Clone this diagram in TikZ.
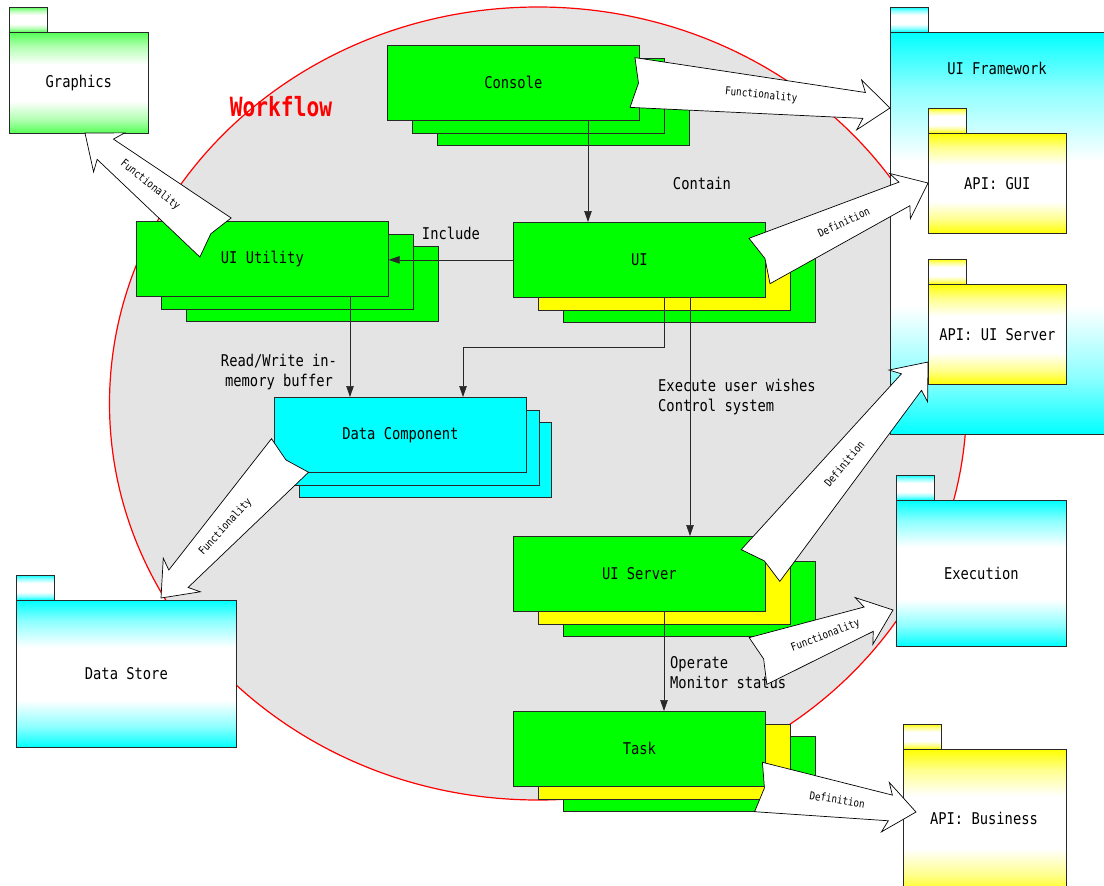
\documentclass[tikz,border=0pt]{standalone}
\usepackage{fontspec}
\usetikzlibrary{calc,arrows.meta}

% condensed monospace faces for the labels
\newfontfamily\lbl[FakeStretch=0.85]{DejaVu Sans Mono}
\newfontfamily\wflbl[FakeStretch=0.8]{DejaVu Sans Mono}

\definecolor{wfgray}{RGB}{228,228,228}
\definecolor{wfred}{RGB}{255,0,0}
\definecolor{boxgreen}{RGB}{0,255,0}
\definecolor{boxyellow}{RGB}{255,255,0}
\definecolor{boxcyan}{RGB}{0,255,255}
\definecolor{pkggreen}{RGB}{85,255,85}
\definecolor{edge}{RGB}{40,40,40}

% package fill: coloured at top and bottom, white band in the middle
\colorlet{pkgcol}{boxcyan}
\pgfdeclareverticalshading[pkgcol]{pkgshade}{100bp}{%
  color(0bp)=(pkgcol); color(25bp)=(pkgcol); color(32bp)=(pkgcol!45!white);
  color(41bp)=(white); color(59bp)=(white); color(68bp)=(pkgcol!45!white);
  color(75bp)=(pkgcol); color(100bp)=(pkgcol)}

% UML package: small tab above a body
\newcommand{\pkg}[7]{%
  \draw[pkgshape=#2] (#3,#4-25) rectangle ++(38,25);
  \node[pkgshape=#2, anchor=north west, minimum width=#5pt, minimum height=#6pt] (#1) at (#3,#4) {#7};}

% stack of three boxes, front one carries the name
\newcommand{\stk}[8]{%
  \node[stackbox, fill=#7] (#1-3) at (#2+2*#4, #3+25) {};
  \node[stackbox, fill=#6] (#1-2) at (#2+#4, #3+12.5) {};
  \node[stackbox, fill=#5] (#1) at (#2,#3) {#8};}

% tapered hollow arrow from a tail coordinate to a tip coordinate
\newcommand{\fatarrow}[3]{%
  \draw[fatarrow] ($(#1)!25pt!90:(#2)$) -- ($(#1)!6pt!(#2)$) -- ($(#1)!25pt!-90:(#2)$)
    -- ($(#2)!26pt!(#1)!13pt!90:(#1)$) -- ($(#2)!31pt!(#1)!25pt!90:(#1)$) -- (#2)
    -- ($(#2)!31pt!(#1)!25pt!-90:(#1)$) -- ($(#2)!26pt!(#1)!13pt!-90:(#1)$) -- cycle;
  \path (#1) -- node[sloped, fatlabel] {#3} (#2);}

\begin{document}
\begin{tikzpicture}[x=1pt, y=-1pt,
  txt/.style={font=\lbl\fontsize{16.2pt}{20pt}\selectfont, inner sep=0pt, text=black},
  pkgshape/.style={draw=edge, line width=0.7pt, shade, shading=pkgshade,
    /utils/exec={\colorlet{pkgcol}{#1}}, inner sep=0pt,
    font=\lbl\fontsize{16.2pt}{20pt}\selectfont},
  stackbox/.style={draw=edge, line width=0.7pt, anchor=north west, inner sep=0pt,
    minimum width=252pt, minimum height=75pt,
    font=\lbl\fontsize{16.2pt}{20pt}\selectfont},
  conn/.style={draw=edge, line width=0.7pt, -{Triangle[length=11pt,width=7.5pt]}},
  fatarrow/.style={draw=black, fill=white, line width=0.7pt, line join=miter},
  fatlabel/.style={font=\lbl\fontsize{10.9pt}{12pt}\selectfont, inner sep=0pt},
  wf/.style={draw=wfred, fill=wfgray, line width=1.2pt},
  wflabel/.style={font=\wflbl\bfseries\fontsize{26.5pt}{30pt}\selectfont, text=wfred, inner sep=0pt}]

\useasboundingbox (0,0) rectangle (1104,886);
\clip (0,0) rectangle (1104,886);
\fill[white] (0,0) rectangle (1104,886);

% workflow region
\draw[wf] (538,403.5) ellipse [x radius=428.5pt, y radius=396.5pt];
\node[wflabel] (wftitle) at (281,107) {Workflow};

% packages
\pkg{graphics}{pkggreen}{9}{32}{139}{101}{Graphics}
\pkg{uifw}{boxcyan}{890}{32}{225}{402}{}
\node[txt] (uifwlabel) at (997,68) {UI Framework};
\pkg{apigui}{boxyellow}{928}{133}{138}{100}{API: GUI}
\pkg{apisrv}{boxyellow}{928}{284}{138}{100}{API: UI Server}
\pkg{exec}{boxcyan}{896}{500}{170}{146}{Execution}
\pkg{apibiz}{boxyellow}{903}{749}{163}{146}{}
\node[txt] (apibizlabel) at (984,818) {API: Business};
\pkg{store}{boxcyan}{16}{600}{220}{147}{Data Store}

% component stacks
\stk{console}{387}{45}{25}{boxgreen}{boxgreen}{boxgreen}{Console}
\stk{ui}{513}{222}{25}{boxgreen}{boxyellow}{boxgreen}{UI}
\stk{uiutil}{136}{221}{25}{boxgreen}{boxgreen}{boxgreen}{UI Utility}
\stk{datacomp}{274}{397}{12.5}{boxcyan}{boxcyan}{boxcyan}{Data Component}
\stk{uiserver}{513}{536}{25}{boxgreen}{boxyellow}{boxgreen}{UI Server}
\stk{task}{513}{711}{25}{boxgreen}{boxyellow}{boxgreen}{Task}

% dependencies
\draw[conn] (588,0 |- console.south) -- (588,0 |- ui.north);
\draw[conn] (ui.west) -- (ui.west -| uiutil.east);
\draw[conn] (350,0 |- uiutil.south) -- (350,0 |- datacomp.north);
\draw[conn] (664,0 |- ui.south) -- (664,347) -| (463,0 |- datacomp.north);
\draw[conn] (690,0 |- ui.south) -- (690,0 |- uiserver.north);
\draw[conn] (664,0 |- uiserver.south) -- (664,0 |- task.north);

\node[txt] (contain) at (702,183) {Contain};
\node[txt] (include) at (451,233) {Include};
\node[txt, align=center] (rwlabel) at (279,372) {Read/Write in-\\memory buffer};
\node[txt, align=left, anchor=west] (execlabel) at (658,397.5) {Execute user wishes\\Control system};
\node[txt, align=left, anchor=west] (oplabel) at (670,673) {Operate\\Monitor status};

% realisation arrows
\coordinate (fa1t) at (632.5,82.5);  \coordinate (fa1h) at (890,108);
\coordinate (fa2t) at (215.5,237.5); \coordinate (fa2h) at (85,133);
\coordinate (fa3t) at (759.5,261);   \coordinate (fa3h) at (928,183);
\coordinate (fa4t) at (760.5,565.5); \coordinate (fa4h) at (928,362);
\coordinate (fa5t) at (758,661);     \coordinate (fa5h) at (893,610);
\coordinate (fa6t) at (758.5,787);   \coordinate (fa6h) at (916,812);
\coordinate (fa7t) at (290,455.5);   \coordinate (fa7h) at (161,598);

\fatarrow{fa1t}{fa1h}{Functionality}
\fatarrow{fa2t}{fa2h}{Functionality}
\fatarrow{fa3t}{fa3h}{Definition}
\fatarrow{fa4t}{fa4h}{Definition}
\fatarrow{fa5t}{fa5h}{Functionality}
\fatarrow{fa6t}{fa6h}{Definition}
\fatarrow{fa7t}{fa7h}{Functionality}
\end{tikzpicture}
\end{document}
